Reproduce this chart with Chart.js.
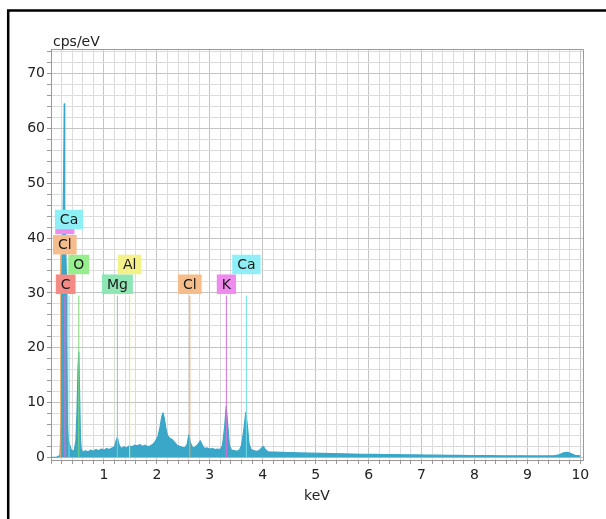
<!DOCTYPE html>
<html><head><meta charset="utf-8">
<script src="https://cdn.jsdelivr.net/npm/chart.js@4.4.1/dist/chart.umd.min.js"></script>
<style>html,body{margin:0;padding:0;background:#fff}#wrap{width:606px;height:519px;position:relative}</style>
</head><body><div id="wrap"><canvas id="c" width="606" height="519"></canvas></div>
<script>
// ---- data ----
const energies = [0.00,0.10,0.17,0.19,0.20,0.21,0.225,0.24,0.25,0.26,0.275,0.29,0.30,0.31,0.33,0.35,0.38,0.41,0.44,0.47,0.49,0.51,0.525,0.54,0.555,0.57,0.60,0.65,0.70,0.75,0.80,0.85,0.90,0.95,1.00,1.05,1.10,1.15,1.20,1.23,1.255,1.28,1.32,1.38,1.43,1.48,1.53,1.58,1.63,1.68,1.73,1.78,1.83,1.88,1.93,1.97,2.02,2.06,2.09,2.115,2.14,2.17,2.20,2.24,2.28,2.33,2.38,2.43,2.48,2.53,2.57,2.605,2.635,2.68,2.73,2.78,2.82,2.86,2.90,2.95,3.00,3.05,3.10,3.15,3.20,3.24,3.28,3.31,3.34,3.37,3.41,3.46,3.51,3.56,3.60,3.64,3.68,3.71,3.74,3.78,3.83,3.88,3.93,3.97,4.01,4.05,4.10,4.20,4.35,4.50,4.70,4.90,5.10,5.30,5.50,5.70,5.90,6.10,6.30,6.50,6.70,6.90,7.10,7.30,7.50,7.70,7.90,8.10,8.30,8.50,8.70,8.90,9.10,9.30,9.50,9.60,9.68,9.75,9.82,9.90,10.00];
const counts   = [0,0,0.3,6,30,38,42,52,64.5,46,40,33,22,6,3,2.4,1.4,1.1,1.3,3,8,16,19.2,12,4,1.5,0.9,1.2,1.0,1.3,1.1,1.4,1.2,1.5,1.3,1.6,1.4,1.7,1.9,3.0,3.6,2.4,1.6,1.9,1.7,2.1,1.9,2.2,2.1,2.3,2.0,2.2,1.9,2.1,2.4,2.9,3.8,5.5,7.3,8.1,7.2,5.3,4.0,3.5,3.3,2.8,2.2,2.0,1.8,1.7,2.3,4.1,2.6,1.7,1.9,2.4,3.0,2.2,1.6,1.7,1.5,1.6,1.4,1.5,1.4,2.2,5.5,9.3,5.8,2.2,1.3,1.2,1.1,1.3,2.2,4.8,8.2,5.8,2.5,1.4,1.2,1.1,1.2,1.6,2.0,1.4,1.0,0.95,0.9,0.85,0.8,0.75,0.7,0.66,0.62,0.58,0.55,0.52,0.5,0.47,0.45,0.42,0.4,0.38,0.36,0.34,0.32,0.3,0.29,0.28,0.27,0.26,0.25,0.25,0.28,0.45,0.8,0.9,0.7,0.35,0.25];
const xTickValues = [1,2,3,4,5,6,7,8,9,10];
const yTickValues = [0,10,20,30,40,50,60,70];
const markerElements = ['C','O','Mg','Al','Cl','K','Ca','Cl','K','Ca'];
const markerEnergies = [0.277,0.525,1.254,1.486,2.622,3.313,3.691,0.183,0.262,0.341];
const markerLineTops = [29.5,29.5,29.5,29.5,29.5,29.5,29.5,37.0,29.5,29.5];
const labelLevels    = [29.8,33.4,29.8,33.4,29.8,29.8,33.4,37.0,40.7,41.6];

// ---- styles ----
const elementBoxColor = {C:'#f48a86',O:'#98ee8e',Mg:'#8ee6b4',Al:'#f4f08a',Cl:'#f6bd8c',K:'#ee8cee',Ca:'#8ef0f6'};
const elementLineColor = {C:'#ec6e6a',O:'#7ed874',Mg:'#70d8a0',Al:'#e8e070',Cl:'#f0a060',K:'#d870d8',Ca:'#6ee0ea'};
const specColor = 'rgb(58,166,200)';

const datasets = [{
  label:'spectrum',
  data: energies.map((e,i)=>({x:e,y:counts[i]})),
  borderColor: specColor, backgroundColor: specColor, borderWidth:1.2,
  pointRadius:0, fill:'origin', tension:0, order:2
}];
markerElements.forEach((el,i)=>{
  datasets.push({
    label:'m'+i,
    data:[{x:markerEnergies[i],y:0},{x:markerEnergies[i],y:markerLineTops[i]}],
    borderColor: elementLineColor[el], borderWidth:1, pointRadius:0, fill:false, order:1
  });
});

const labelPlugin = {
  id:'labels',
  afterDatasetsDraw(chart){
    const ctx = chart.ctx, xs = chart.scales.x, ys = chart.scales.y;
    ctx.save();
    ctx.font = '14px "DejaVu Sans"';
    ctx.textAlign = 'center'; ctx.textBaseline = 'middle';
    const order = [7,8,9,0,1,2,3,4,5,6];
    order.forEach(i=>{
      const el = markerElements[i];
      const cx = xs.getPixelForValue(markerEnergies[i]);
      const by = ys.getPixelForValue(labelLevels[i]);
      const w = ctx.measureText(el).width + 10, h = 19.5;
      let left = cx - w/2;
      if (left < xs.left + 1) left = xs.left + 2;
      ctx.fillStyle = elementBoxColor[el];
      ctx.fillRect(left, by - h, w, h);
      ctx.fillStyle = '#1a1a1a';
      ctx.fillText(el, left + w/2, by - h/2 + 1);
    });
    ctx.restore();
  }
};

const framePlugin = {
  id:'frame',
  afterDraw(chart){
    const ctx = chart.ctx, a = chart.chartArea;
    ctx.save();
    ctx.strokeStyle = '#9a9a9a'; ctx.lineWidth = 1;
    ctx.beginPath();
    ctx.moveTo(a.left, a.top+0.5); ctx.lineTo(a.right+0.5, a.top+0.5);
    ctx.lineTo(a.right+0.5, a.bottom);
    ctx.stroke();
    ctx.strokeStyle = '#000'; ctx.lineWidth = 2.5;
    ctx.beginPath();
    ctx.moveTo(8.2, 519); ctx.lineTo(8.2, 10.5); ctx.lineTo(606, 10.5);
    ctx.stroke();
    ctx.fillStyle = '#222';
    ctx.font = '14px "DejaVu Sans"';
    ctx.textAlign = 'left'; ctx.textBaseline = 'alphabetic';
    ctx.fillText('cps/eV', a.left + 2, 46);
    ctx.textAlign = 'center'; ctx.textBaseline = 'middle';
    ctx.fillText('keV', (a.left + a.right)/2, 496);
    ctx.restore();
  }
};

function range(a,b,s){const r=[];for(let v=a;v<=b+1e-9;v+=s)r.push(Math.round(v*1000)/1000);return r;}

new Chart(document.getElementById('c'),{
  type:'line',
  data:{datasets},
  plugins:[labelPlugin, framePlugin],
  options:{
    responsive:false, animation:false, devicePixelRatio:1,
    layout:{padding:{left:0,right:23,top:49,bottom:14}},
    plugins:{legend:{display:false},tooltip:{enabled:false}},
    elements:{line:{borderJoinStyle:'round'}},
    scales:{
      x:{
        type:'linear', min:0, max:10.05,
        afterBuildTicks(axis){ axis.ticks = range(0,10,0.2).map(v=>({value:v})); },
        afterFit(s){ s.height = 45; },
        ticks:{
          autoSkip:false, maxRotation:0, padding:3, color:'#222',
          font:{family:'DejaVu Sans',size:14},
          callback(v){ return xTickValues.includes(Math.round(v*1000)/1000) ? String(Math.round(v)) : ''; }
        },
        grid:{
          color(c){ const v=c.tick&&c.tick.value; return Math.abs(v-Math.round(v))<1e-6 ? '#c4c4c4' : '#dcdcdc'; },
          tickColor:'#999', tickLength:4, lineWidth:1
        },
        border:{display:true,color:'#999',dash:[]}
      },
      y:{
        type:'linear', min:-0.5, max:74.5,
        afterBuildTicks(axis){ axis.ticks = range(0,74,2).map(v=>({value:v})); },
        afterFit(s){ s.width = 51; },
        ticks:{
          autoSkip:false, padding:2, color:'#222',
          font:{family:'DejaVu Sans',size:14},
          callback(v){ return yTickValues.includes(v) ? String(v) : ''; }
        },
        grid:{
          color(c){ const v=c.tick&&c.tick.value; return v%10===0 ? '#c4c4c4' : '#dcdcdc'; },
          tickColor:'#999', tickLength:4, lineWidth:1
        },
        border:{display:true,color:'#999'}
      }
    }
  }
});
</script></body></html>
